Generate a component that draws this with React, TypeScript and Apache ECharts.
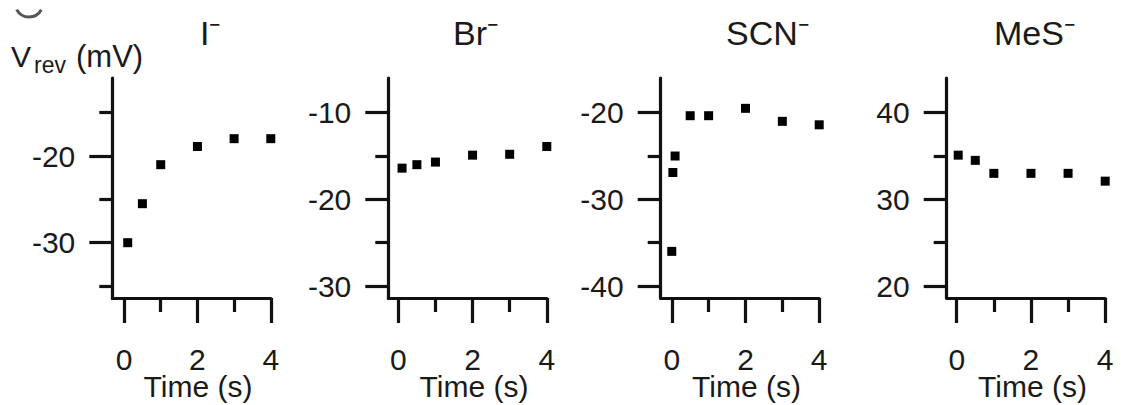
import React, { useEffect, useRef } from "react";
import * as echarts from "echarts";

// ---- data ----
const panelTitles = ["I⁻", "Br⁻", "SCN⁻", "MeS⁻"];

const iTime = [0.1, 0.5, 1, 2, 3, 4];
const iVrev = [-30, -25.5, -21, -18.9, -18, -18];

const brTime = [0.1, 0.5, 1, 2, 3, 4];
const brVrev = [-16.4, -16.0, -15.7, -14.9, -14.8, -13.9];

const scnTime = [0, 0.03, 0.09, 0.5, 1, 2, 3, 4];
const scnVrev = [-36, -26.9, -25, -20.35, -20.35, -19.5, -21.0, -21.4];

const mesTime = [0.04, 0.5, 1, 2, 3, 4];
const mesVrev = [35.1, 34.5, 33.0, 33.0, 33.0, 32.1];

const xMajorTicks = [0, 2, 4];
const xMinorTicks = [1, 3];
const xMax = 4;
const xMins = [-0.32, -0.27, -0.3, -0.27];

const yMajorTicks = [
  [-30, -20],
  [-30, -20, -10],
  [-40, -30, -20],
  [20, 30, 40],
];
const yMinorTicks = [
  [-35, -25, -15],
  [-25, -15],
  [-35, -25],
  [25, 35],
];
const yRanges = [
  [-36.38, -11],
  [-31.38, -6],
  [-41.38, -16],
  [18.62, 44],
];

const xAxisName = "Time (s)";

// ---- layout ----
const gridLefts = [112.3, 388.3, 660.7, 946.7];
const gridWidth = 158.5;
const gridTop = 78;
const gridHeight = 220;
const titleX = [200, 453, 726, 994];

const FONT = '"Liberation Sans", Arial, Helvetica, sans-serif';
const INK = "#111";
const TXT = "#1a1a1a";
const LW = 3.2;

export default function App() {
  const ref = useRef<HTMLDivElement>(null);

  useEffect(() => {
    if (!ref.current) return;
    const chart = echarts.init(ref.current, undefined, { renderer: "svg" });

    const seriesData = [
      iTime.map((t, k) => [t, iVrev[k]]),
      brTime.map((t, k) => [t, brVrev[k]]),
      scnTime.map((t, k) => [t, scnVrev[k]]),
      mesTime.map((t, k) => [t, mesVrev[k]]),
    ];

    const grids: any[] = [];
    const xAxes: any[] = [];
    const yAxes: any[] = [];
    const series: any[] = [];

    for (let i = 0; i < 4; i++) {
      grids.push({
        left: gridLefts[i],
        top: gridTop,
        width: gridWidth,
        height: gridHeight,
        containLabel: false,
        outerBoundsMode: "none",
      });
      // main x axis
      xAxes.push({
        type: "value",
        gridIndex: i,
        position: "bottom",
        min: xMins[i],
        max: xMax,
        axisLine: { show: true, onZero: false, lineStyle: { color: INK, width: LW } },
        axisTick: {
          show: true,
          customValues: xMajorTicks,
          length: 25,
          lineStyle: { color: INK, width: LW },
        },
        axisLabel: {
          show: true,
          customValues: xMajorTicks,
          margin: 46,
          fontSize: 30,
          fontFamily: FONT,
          color: TXT,
        },
        splitLine: { show: false },
        name: xAxisName,
        nameLocation: "middle",
        nameGap: 73,
        nameMoveOverlap: false,
        nameTextStyle: {
          fontSize: 30,
          fontFamily: FONT,
          color: TXT,
          padding: [0, 0, 0, 13],
        },
      });
      // minor x ticks
      xAxes.push({
        type: "value",
        gridIndex: i,
        position: "bottom",
        min: xMins[i],
        max: xMax,
        axisLine: { show: false, onZero: false },
        axisTick: {
          show: true,
          customValues: xMinorTicks,
          length: 14,
          lineStyle: { color: INK, width: LW },
        },
        axisLabel: { show: false },
        splitLine: { show: false },
      });
      // main y axis
      yAxes.push({
        type: "value",
        gridIndex: i,
        position: "left",
        min: yRanges[i][0],
        max: yRanges[i][1],
        axisLine: { show: true, onZero: false, lineStyle: { color: INK, width: LW } },
        axisTick: {
          show: true,
          customValues: yMajorTicks[i],
          length: 23,
          lineStyle: { color: INK, width: LW },
        },
        axisLabel: {
          show: true,
          customValues: yMajorTicks[i],
          margin: 37,
          fontSize: 30,
          fontFamily: FONT,
          color: TXT,
        },
        splitLine: { show: false },
      });
      // minor y ticks
      yAxes.push({
        type: "value",
        gridIndex: i,
        position: "left",
        min: yRanges[i][0],
        max: yRanges[i][1],
        axisLine: { show: false, onZero: false },
        axisTick: {
          show: true,
          customValues: yMinorTicks[i],
          length: 13,
          lineStyle: { color: INK, width: LW },
        },
        axisLabel: { show: false },
        splitLine: { show: false },
      });

      series.push({
        type: "scatter",
        name: panelTitles[i],
        xAxisIndex: 2 * i,
        yAxisIndex: 2 * i,
        data: seriesData[i],
        symbol: "rect",
        symbolSize: 9,
        itemStyle: { color: "#000", opacity: 1 },
      });
    }

    const graphics: any[] = panelTitles.map((t, i) => ({
      type: "text",
      x: titleX[i],
      y: 33,
      style: {
        text: t,
        fontSize: 34,
        fontFamily: FONT,
        fill: TXT,
        align: "left",
        verticalAlign: "middle",
      },
    }));
    graphics.push(
      {
        type: "text",
        x: 11,
        y: 56,
        style: { text: "V", fontSize: 30, fontFamily: FONT, fill: TXT, align: "left", verticalAlign: "middle" },
      },
      {
        type: "text",
        x: 34,
        y: 65,
        style: { text: "rev", fontSize: 23, fontFamily: FONT, fill: TXT, align: "left", verticalAlign: "middle" },
      },
      {
        type: "text",
        x: 76,
        y: 56,
        style: { text: "(mV)", fontSize: 31, fontFamily: FONT, fill: TXT, align: "left", verticalAlign: "middle" },
      },
      {
        type: "arc",
        shape: { cx: 29, cy: 3, r: 14, startAngle: 0.5, endAngle: 2.65 },
        style: { stroke: "#555", lineWidth: 3, fill: "none" },
      }
    );

    chart.setOption({
      animation: false,
      backgroundColor: "#fff",
      grid: grids,
      xAxis: xAxes,
      yAxis: yAxes,
      series,
      graphic: graphics,
    });

    return () => chart.dispose();
  }, []);

  return (
    <div
      ref={ref}
      style={{ position: "fixed", left: 0, top: 0, width: 1121, height: 405, background: "#fff" }}
    />
  );
}
